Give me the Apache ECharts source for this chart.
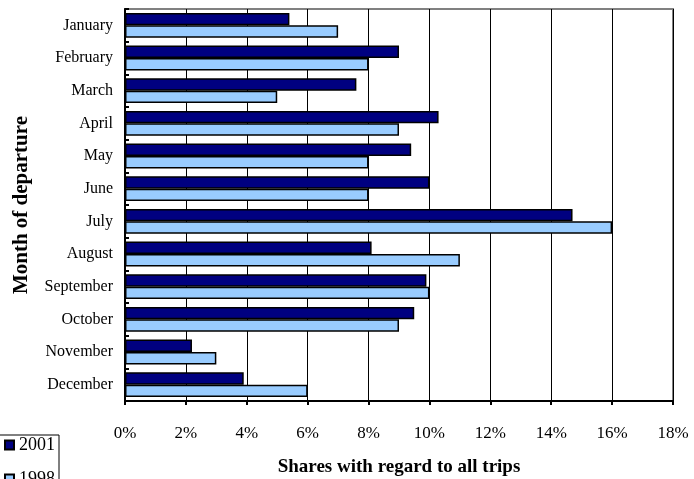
<!DOCTYPE html>
<html>
<head>
<meta charset="utf-8">
<script src="https://cdn.jsdelivr.net/npm/echarts@6/dist/echarts.min.js"></script>
<style>
  html, body { margin: 0; padding: 0; background: #fff; }
  #chart { width: 694px; height: 479px; }
</style>
</head>
<body>
<div id="chart"></div>
<script>
const months = ["January", "February", "March", "April", "May", "June", "July",
  "August", "September", "October", "November", "December"];
const share2001 = [5.4, 9.0, 7.6, 10.3, 9.4, 10.0, 14.7, 8.1, 9.9, 9.5, 2.2, 3.9];
const share1998 = [7.0, 8.0, 5.0, 9.0, 8.0, 8.0, 16.0, 11.0, 10.0, 9.0, 3.0, 6.0];
const xTicks = { min: 0, max: 18, interval: 2 };

const serif = "'Liberation Serif', 'Times New Roman', serif";
const chart = echarts.init(document.getElementById("chart"));

chart.setOption({
  animation: false,
  textStyle: { fontFamily: serif, color: "#000" },
  grid: {
    left: 125, right: 21, top: 9, bottom: 78,
    outerBoundsMode: "none",
    containLabel: false,
    show: true, borderColor: "#808080", borderWidth: 2, backgroundColor: "#fff"
  },
  legend: {
    orient: "vertical",
    left: -1, top: 435,
    height: 80,
    padding: [1, 4, 2, 5],
    itemGap: 16,
    itemWidth: 9, itemHeight: 9,
    borderColor: "#000", borderWidth: 1,
    icon: "rect",
    textStyle: { fontFamily: serif, fontSize: 18, color: "#000", padding: [0, 0, 0, 0] },
    data: ["2001", "1998"]
  },
  xAxis: {
    type: "value",
    min: xTicks.min, max: xTicks.max, interval: xTicks.interval,
    name: "Shares with regard to all trips",
    nameLocation: "middle",
    nameGap: 57,
    nameTextStyle: { fontFamily: serif, fontSize: 19, fontWeight: "bold", color: "#000" },
    axisLine: { show: true, lineStyle: { color: "#000", width: 2 } },
    axisTick: { show: true, length: 4, lineStyle: { color: "#000", width: 2 } },
    axisLabel: { formatter: v => v + "%", fontSize: 17, color: "#000", margin: 24, fontFamily: serif },
    splitLine: { show: true, lineStyle: { color: "#000", width: 1 } }
  },
  yAxis: {
    type: "category",
    data: months,
    inverse: true,
    name: "Month of departure",
    nameLocation: "middle",
    nameGap: 93,
    nameRotate: 90,
    nameTextStyle: { fontFamily: serif, fontSize: 21, fontWeight: "bold", color: "#000" },
    axisLine: { show: true, lineStyle: { color: "#000", width: 2 } },
    axisTick: { show: true, inside: true, length: 4, lineStyle: { color: "#000", width: 2 } },
    axisLabel: { fontSize: 16, color: "#000", margin: 12, fontFamily: serif }
  },
  series: [
    {
      name: "2001", type: "bar", data: share2001,
      barGap: 0, barCategoryGap: "24%",
      itemStyle: { color: "#000080", borderColor: "#000", borderWidth: 1.5 }
    },
    {
      name: "1998", type: "bar", data: share1998,
      barGap: 0, barCategoryGap: "24%",
      itemStyle: { color: "#99CCFF", borderColor: "#000", borderWidth: 1.5 }
    }
  ]
});
</script>
</body>
</html>
